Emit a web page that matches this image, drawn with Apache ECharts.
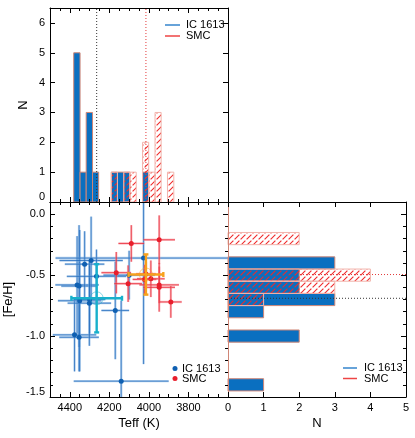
<!DOCTYPE html>
<html><head><meta charset="utf-8">
<script src="https://cdn.jsdelivr.net/npm/echarts@6/dist/echarts.min.js"></script>
<style>html,body{margin:0;padding:0;background:#fff}#main{width:415px;height:438px}</style>
</head><body><div id="main"></div>
<script>
// ---------------- data ----------------
// Teff histogram (top panel): bin edges (K) and counts per bin
const teffBinEdges  = [4380, 4348, 4317, 4285, 4254, 4222, 4190, 4159, 4127, 4096, 4064, 4032, 4001, 3969, 3938, 3906, 3874];
const icTeffCounts  = [5, 1, 3, 1, 0, 0, 1, 1, 1, 0, 0, 1, 0, 0, 0, 0];
const smcTeffCounts = [0, 0, 0, 0, 0, 0, 1, 0, 1, 1, 0, 2, 1, 3, 0, 1];

// [Fe/H] histogram (right panel)
const fehBinCenters = [-0.2, -0.3, -0.4, -0.5, -0.6, -0.7, -0.8, -0.9, -1.0, -1.1, -1.2, -1.3, -1.4];
const fehBinWidth   = 0.1;
const icFehCounts   = [0, 0, 3, 2, 2, 3, 1, 0, 2, 0, 0, 0, 1];
const smcFehCounts  = [2, 0, 0, 4, 3, 1, 0, 0, 0, 0, 0, 0, 0];

// Individual stars (scatter panel)
const icTeff    = [4376, 4363, 4353, 4353, 4350, 4325, 4301, 4300, 4292, 4265, 4170, 4140, 4100, 4027];
const icFeh     = [-0.99, -0.58, -0.59, -1.01, -0.71, -0.41, -0.73, -0.70, -0.38, -0.51, -0.79, -1.37, -0.50, -0.36];
const icTeffErr = [110, 110, 90, 100, 110, 100, 110, 80, 160, 150, 70, 240, 130, 445];
const icFehErr  = [0.30, 0.40, 0.50, 0.28, 0.58, 0.27, 0.35, 0.28, 0.36, 0.22, 0.40, 0.66, 0.20, 0.87];

const smcTeff    = [4165, 4105, 4089, 4022, 4015, 3990, 3948, 3948, 3948, 3889];
const smcFeh     = [-0.48, -0.57, -0.24, -0.535, -0.49, -0.53, -0.21, -0.58, -0.60, -0.72];
const smcTeffErr = [75, 70, 65, 60, 50, 70, 80, 100, 80, 55];
const smcFehErr  = [0.17, 0.15, 0.15, 0.12, 0.10, 0.15, 0.20, 0.15, 0.20, 0.13];

// Sample means: [Teff, [Fe/H]] and errors
const icMean     = [4264, -0.69];
const icMeanErr  = [128, 0.28];
const smcMean    = [4015, -0.495];
const smcMeanErr = [88, 0.165];

// Axis ranges / ticks
const teffRange = [3600, 4500], teffMajor = 200, teffMinor = 50;
const fehRange  = [-1.5, 0.1],  fehMajor = 0.5,  fehMinor = 0.1;
const nTopRange = [0, 6.5], nRightRange = [0, 5];

// ---------------- styles ----------------
const FONT = 'Liberation Sans, Arial, Helvetica, sans-serif';
const IC_FILL = '#0a6fc0', IC_EDGE = '#d08676';
const SMC_EDGE = '#f2b4ac', HATCH = '#f02a2a';
const IC_PT = '#0f60b2', SMC_PT = '#e81e2c';

function makeHatch() {
  const s = 6, c = document.createElement('canvas');
  c.width = s; c.height = s;
  const g = c.getContext('2d');
  g.strokeStyle = HATCH; g.lineWidth = 1.1; g.lineCap = 'butt';
  g.beginPath(); g.moveTo(0.6, s - 0.6); g.lineTo(s - 0.6, 0.6); g.stroke();
  return c;
}
const hatchFill = { image: makeHatch(), repeat: 'repeat' };

function merge(a, b) {
  const o = Object.assign({}, a);
  for (const k in b) {
    if (b[k] && typeof b[k] === 'object' && !Array.isArray(b[k]) && a[k] && typeof a[k] === 'object') o[k] = merge(a[k], b[k]);
    else o[k] = b[k];
  }
  return o;
}
const baseAxis = {
  type: 'value', z: 5, splitLine: { show: false }, splitArea: { show: false },
  axisLine: { show: true, onZero: false, lineStyle: { color: '#000', width: 1 } },
  axisTick: { show: true, inside: true, length: 5, lineStyle: { color: '#000', width: 1 } },
  axisLabel: { show: false }, minorTick: { show: false },
  nameTextStyle: { fontSize: 13, color: '#000', fontFamily: FONT }
};
const lab = { show: true, fontSize: 11, color: '#000', fontFamily: FONT, lineHeight: 10 };
function A(o) { return merge(baseAxis, o); }
const minorOpt = { axisLine: { show: false }, axisTick: { length: 3 } };

function teffAxis(grid, pos, minor, labels) {
  let o = { gridIndex: grid, position: pos, min: teffRange[0], max: teffRange[1], inverse: true,
            interval: minor ? teffMinor : teffMajor };
  if (minor) o = merge(o, minorOpt);
  if (labels) {
    o.axisLabel = merge(lab, { margin: 6, showMinLabel: false, showMaxLabel: false, formatter: v => String(v) });
    o.name = 'Teff (K)'; o.nameLocation = 'middle'; o.nameGap = 20;
  }
  return A(o);
}
function fehAxis(grid, pos, minor, labels, lineColor) {
  let o = { gridIndex: grid, position: pos, min: fehRange[0], max: fehRange[1], interval: minor ? fehMinor : fehMajor };
  if (minor) o = merge(o, minorOpt);
  if (labels) {
    o.axisLabel = merge(lab, { margin: 5, showMaxLabel: false,
      formatter: v => (Math.abs(v - fehRange[0]) < 1e-9 ? v.toFixed(1) + '\n' : v.toFixed(1)) });
    o.name = '[Fe/H]'; o.nameLocation = 'middle'; o.nameGap = 35;
  }
  return A(o);
}

const xAxes = [
  teffAxis(0, 'bottom', false, false), teffAxis(0, 'bottom', true, false),
  teffAxis(0, 'top', false, false),    teffAxis(0, 'top', true, false),
  teffAxis(1, 'bottom', false, true),  teffAxis(1, 'bottom', true, false),
  teffAxis(1, 'top', false, false),    teffAxis(1, 'top', true, false),
  A({ gridIndex: 2, position: 'bottom', min: nRightRange[0], max: nRightRange[1], interval: 1,
      axisLabel: merge(lab, { margin: 6, formatter: v => String(v) }),
      name: 'N', nameLocation: 'middle', nameGap: 20 }),
  A({ gridIndex: 2, position: 'top', min: nRightRange[0], max: nRightRange[1], interval: 1 })
];
const yAxes = [
  A({ gridIndex: 0, position: 'left', min: nTopRange[0], max: nTopRange[1], interval: 1,
      axisLabel: merge(lab, { margin: 5, showMaxLabel: false, formatter: v => (v === 0 ? '0\n' : String(v)) }),
      name: 'N', nameLocation: 'middle', nameGap: 20 }),
  A({ gridIndex: 0, position: 'right', min: nTopRange[0], max: nTopRange[1], interval: 1 }),
  fehAxis(1, 'left', false, true), fehAxis(1, 'left', true, false),
  merge(fehAxis(1, 'right', false, false), { axisLine: { show: false } }), fehAxis(1, 'right', true, false),
  merge(fehAxis(2, 'left', false, false), { axisLine: { lineStyle: { color: IC_EDGE } }, axisTick: { show: false } }),
  merge(fehAxis(2, 'left', true, false), { axisTick: { show: false } }),
  fehAxis(2, 'right', false, false), fehAxis(2, 'right', true, false)
];

// ---------------- render helpers ----------------
function teffHistData(counts) {
  const d = [];
  counts.forEach((c, i) => { if (c > 0) d.push([teffBinEdges[i], c, teffBinEdges[i + 1]]); });
  return d;
}
function fehHistData(counts) {
  const d = [];
  counts.forEach((c, i) => { if (c > 0) d.push([c, fehBinCenters[i]]); });
  return d;
}
function teffHistRender(fill, stroke) {
  return function (params, api) {
    const a = api.coord([api.value(0), api.value(1)]);
    const b = api.coord([api.value(2), 0]);
    return { type: 'rect',
      shape: { x: Math.min(a[0], b[0]), y: a[1], width: Math.abs(b[0] - a[0]), height: b[1] - a[1] },
      style: { fill: fill, stroke: stroke, lineWidth: 1 } };
  };
}
function fehHistRender(fill, stroke) {
  return function (params, api) {
    const c = api.value(1), n = api.value(0);
    const a = api.coord([0, c + fehBinWidth / 2]);
    const b = api.coord([n, c - fehBinWidth / 2]);
    return { type: 'rect',
      shape: { x: a[0], y: a[1], width: b[0] - a[0], height: b[1] - a[1] },
      style: { fill: fill, stroke: stroke, lineWidth: 1 } };
  };
}
function errRender(halo, core) {
  return function (params, api) {
    const t = api.value(0), f = api.value(1), et = api.value(2), ef = api.value(3);
    const l = api.coord([t + et, f]), r = api.coord([t - et, f]);
    const u = api.coord([t, f + ef]), d = api.coord([t, f - ef]);
    const mk = (p, q, s, w) => ({ type: 'line', shape: { x1: p[0], y1: p[1], x2: q[0], y2: q[1] }, style: { stroke: s, lineWidth: w } });
    return { type: 'group', children: [mk(l, r, halo, 2.4), mk(u, d, halo, 2.4), mk(l, r, core, 0.9), mk(u, d, core, 0.9)] };
  };
}
function meanRender(color, ring) {
  return function (params, api) {
    const t = api.value(0), f = api.value(1), et = api.value(2), ef = api.value(3);
    const c = api.coord([t, f]);
    const l = api.coord([t + et, f]), r = api.coord([t - et, f]);
    const u = api.coord([t, f + ef]), d = api.coord([t, f - ef]);
    const st = { stroke: color, lineWidth: 2.4 };
    const ln = (x1, y1, x2, y2) => ({ type: 'line', shape: { x1, y1, x2, y2 }, style: st });
    const cap = 2.5;
    return { type: 'group', children: [
      { type: 'circle', shape: { cx: c[0], cy: c[1], r: 6.5 }, style: { fill: 'none', stroke: ring, lineWidth: 1 } },
      ln(l[0], l[1], r[0], r[1]), ln(u[0], u[1], d[0], d[1]),
      ln(l[0], l[1] - cap, l[0], l[1] + cap), ln(r[0], r[1] - cap, r[0], r[1] + cap),
      ln(u[0] - cap, u[1], u[0] + cap, u[1]), ln(d[0] - cap, d[1], d[0] + cap, d[1])
    ] };
  };
}
function vLineRender(color) {
  return function (params, api) {
    const t = api.value(0);
    const a = api.coord([t, nTopRange[0]]), b = api.coord([t, nTopRange[1]]);
    return { type: 'line', shape: { x1: a[0], y1: a[1], x2: b[0], y2: b[1] },
      style: { stroke: color, lineWidth: 1, lineDash: [1, 2] } };
  };
}
function hLineRender(color) {
  return function (params, api) {
    const f = api.value(1);
    const a = api.coord([nRightRange[0], f]), b = api.coord([nRightRange[1], f]);
    return { type: 'line', shape: { x1: a[0], y1: a[1], x2: b[0], y2: b[1] },
      style: { stroke: color, lineWidth: 1, lineDash: [1, 2] } };
  };
}
const zip4 = (a, b, c, d) => a.map((v, i) => [v, b[i], c[i], d[i]]);
const zip2 = (a, b) => a.map((v, i) => [v, b[i]]);

const series = [
  // top panel
  { type: 'custom', name: 'IC 1613', coordinateSystem: 'cartesian2d', xAxisIndex: 0, yAxisIndex: 0, z: 2,
    renderItem: teffHistRender(IC_FILL, IC_EDGE), data: teffHistData(icTeffCounts) },
  { type: 'custom', name: 'SMC', coordinateSystem: 'cartesian2d', xAxisIndex: 0, yAxisIndex: 0, z: 3,
    renderItem: teffHistRender(hatchFill, SMC_EDGE), data: teffHistData(smcTeffCounts) },
  { type: 'custom', coordinateSystem: 'cartesian2d', xAxisIndex: 0, yAxisIndex: 0, z: 4,
    renderItem: vLineRender('#333'), data: [[icMean[0], 0]] },
  { type: 'custom', coordinateSystem: 'cartesian2d', xAxisIndex: 0, yAxisIndex: 0, z: 4,
    renderItem: vLineRender('#e23a3a'), data: [[smcMean[0], 0]] },
  // scatter panel
  { type: 'custom', coordinateSystem: 'cartesian2d', xAxisIndex: 4, yAxisIndex: 2, z: 2, clip: true,
    renderItem: errRender('rgba(110,165,222,0.5)', 'rgba(25,100,185,0.8)'), data: zip4(icTeff, icFeh, icTeffErr, icFehErr) },
  { type: 'custom', coordinateSystem: 'cartesian2d', xAxisIndex: 4, yAxisIndex: 2, z: 2, clip: true,
    renderItem: errRender('rgba(245,130,140,0.5)', 'rgba(232,30,45,0.85)'), data: zip4(smcTeff, smcFeh, smcTeffErr, smcFehErr) },
  { type: 'scatter', name: 'IC 1613', xAxisIndex: 4, yAxisIndex: 2, z: 3, symbolSize: 5,
    itemStyle: { color: IC_PT, opacity: 1 }, data: zip2(icTeff, icFeh) },
  { type: 'scatter', name: 'SMC', xAxisIndex: 4, yAxisIndex: 2, z: 3, symbolSize: 5,
    itemStyle: { color: SMC_PT, opacity: 1 }, data: zip2(smcTeff, smcFeh) },
  { type: 'custom', coordinateSystem: 'cartesian2d', xAxisIndex: 4, yAxisIndex: 2, z: 4, clip: true,
    renderItem: meanRender('#17b0cb', 'rgba(23,176,203,0.5)'), data: [[icMean[0], icMean[1], icMeanErr[0], icMeanErr[1]]] },
  { type: 'custom', coordinateSystem: 'cartesian2d', xAxisIndex: 4, yAxisIndex: 2, z: 4, clip: true,
    renderItem: meanRender('#f7a11d', 'rgba(247,161,29,0.5)'), data: [[smcMean[0], smcMean[1], smcMeanErr[0], smcMeanErr[1]]] },
  // right panel
  { type: 'custom', coordinateSystem: 'cartesian2d', xAxisIndex: 8, yAxisIndex: 6, z: 1,
    renderItem: hLineRender('#e23a3a'), data: [[0, smcMean[1]]] },
  { type: 'custom', name: 'IC 1613', coordinateSystem: 'cartesian2d', xAxisIndex: 8, yAxisIndex: 6, z: 2,
    renderItem: fehHistRender(IC_FILL, IC_EDGE), data: fehHistData(icFehCounts) },
  { type: 'custom', name: 'SMC', coordinateSystem: 'cartesian2d', xAxisIndex: 8, yAxisIndex: 6, z: 3,
    renderItem: fehHistRender(hatchFill, SMC_EDGE), data: fehHistData(smcFehCounts) },
  { type: 'custom', coordinateSystem: 'cartesian2d', xAxisIndex: 8, yAxisIndex: 6, z: 4,
    renderItem: hLineRender('#333'), data: [[0, icMean[1]]] }
];

// legends (drawn as graphic elements)
const txt = (x, y, s) => ({ type: 'text', x: x, y: y, z: 10,
  style: { text: s, fontSize: 11, fontFamily: FONT, fill: '#000', verticalAlign: 'middle', align: 'left' } });
const seg = (x1, x2, y, c) => ({ type: 'line', z: 10, shape: { x1: x1, y1: y, x2: x2, y2: y }, style: { stroke: c, lineWidth: 1.5 } });
const dot = (x, y, c) => ({ type: 'circle', z: 10, shape: { cx: x, cy: y, r: 2.5 }, style: { fill: c } });
const graphic = [
  seg(165, 180, 25, '#3584cc'), txt(186, 25, 'IC 1613'),
  seg(165, 180, 36, '#ee4444'), txt(186, 36, 'SMC'),
  dot(175, 368.5, IC_PT), txt(182, 368.5, 'IC 1613'),
  dot(175, 378.5, SMC_PT), txt(182, 378.5, 'SMC'),
  seg(343, 357, 368, '#3584cc'), txt(364, 368, 'IC 1613'),
  seg(343, 357, 378.5, '#ee4444'), txt(364, 378.5, 'SMC')
];

const chart = echarts.init(document.getElementById('main'), null, { renderer: 'canvas' });
chart.setOption({
  animation: false,
  backgroundColor: '#fff',
  textStyle: { fontFamily: FONT },
  grid: [
    { left: 50, top: 8, width: 178, height: 194 },
    { left: 50, top: 202, width: 178, height: 195 },
    { left: 228, top: 202, width: 178, height: 195 }
  ],
  xAxis: xAxes,
  yAxis: yAxes,
  series: series,
  graphic: graphic
});
</script></body></html>
